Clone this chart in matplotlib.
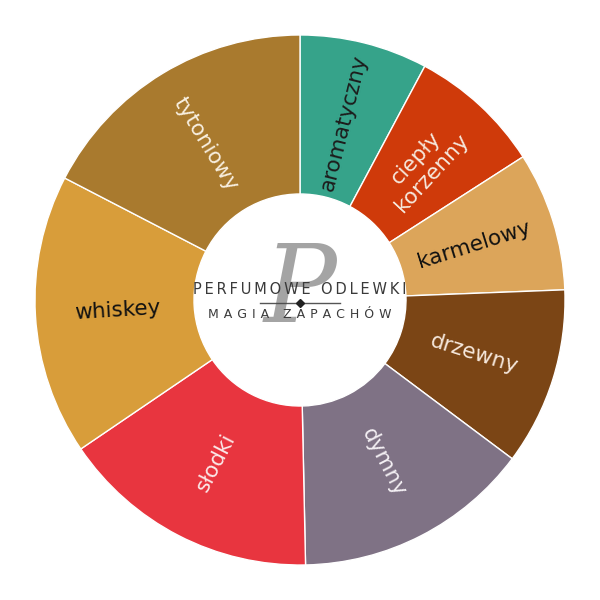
import numpy as np
import matplotlib.pyplot as plt

labels = ['aromatyczny', 'ciepły\nkorzenny', 'karmelowy', 'drzewny',
          'dymny', 'słodki', 'whiskey', 'tytoniowy']
values = [28.1, 29.2, 30.5, 39.0, 52.0, 57.0, 61.6, 62.6]
colors = ['#36a38a', '#cf3a0a', '#dca55a', '#7b4515',
          '#7f7285', '#e8353f', '#d89d3a', '#a97a2e']
text_colors = ['#1c1c1c', '#f6e8dc', '#111111', '#f6e8dc',
               '#f4f0f4', '#fbe9e9', '#111111', '#f8efe0']

fig = plt.figure(figsize=(6, 6), dpi=100)
ax = fig.add_axes([0, 0, 1, 1])

wedges, _ = ax.pie(values, colors=colors, startangle=90, counterclock=False,
                   radius=1.0, wedgeprops=dict(width=0.6, edgecolor='white', linewidth=1))
ax.set_xlim(-1.132, 1.132)
ax.set_ylim(-1.132, 1.132)
ax.set_aspect('equal')
ax.axis('off')

# radial labels
for w, lab, tc in zip(wedges, labels, text_colors):
    mid = (w.theta1 + w.theta2) / 2
    r = 0.69
    x = r * np.cos(np.radians(mid))
    y = r * np.sin(np.radians(mid))
    rot = ((mid + 90) % 180) - 90
    ax.text(x, y, lab, rotation=rot, rotation_mode='anchor', ha='center', va='center',
            fontsize=15.5, color=tc, linespacing=1.1)

# logo in the hole
ax.text(0.0, 0.03, 'P', fontsize=78, style='italic', family='DejaVu Serif',
        color='#4a4a4a', alpha=0.5, ha='center', va='center')
sp = '\u2009'
ax.text(0.0, 0.04, sp.join('PERFUMOWE ODLEWKI'), fontsize=10.5, color='#3a3a3a',
        ha='center', va='center')
ax.text(0.0, -0.055, (sp * 2).join('MAGIA ZAPACHÓW'), fontsize=9, color='#3a3a3a',
        ha='center', va='center')
ax.plot([-0.15, 0.15], [-0.01, -0.01], color='#555555', lw=1)
ax.plot([0.0], [-0.01], marker='D', color='#222222', markersize=4)

fig.savefig('out.png', dpi=100, facecolor='white')
